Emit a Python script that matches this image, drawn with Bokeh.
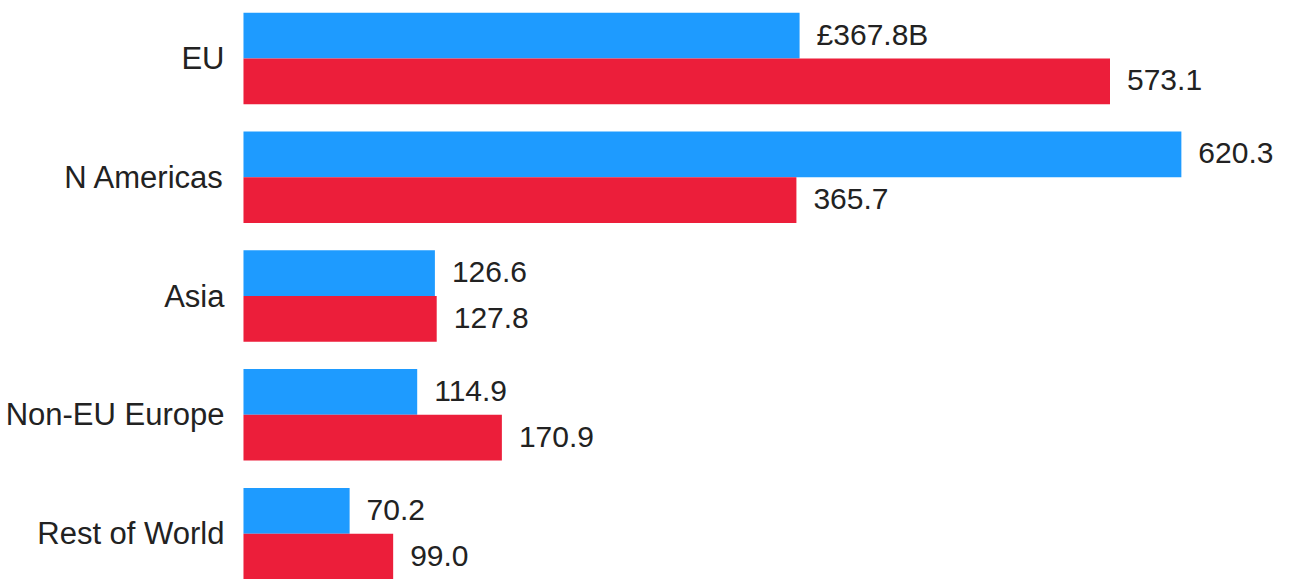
from bokeh.plotting import figure
from bokeh.models import ColumnDataSource, Range1d
from bokeh.core.properties import value
from bokeh.embed import file_html
from bokeh.resources import INLINE

regions = ["EU", "N Americas", "Asia", "Non-EU Europe", "Rest of World"]
series_blue = [367.8, 620.3, 126.6, 114.9, 70.2]
series_red = [573.1, 365.7, 127.8, 170.9, 99.0]

BLUE = "#1E9BFF"
RED = "#EC1E3A"
TXT = "#222222"
FONT = "Liberation Sans"

bar_h = 0.385
idx = list(range(len(regions)))

blue_labels = [f"{v:.1f}" for v in series_blue]
blue_labels[0] = f"£{series_blue[0]:.1f}B"
red_labels = [f"{v:.1f}" for v in series_red]

src_b = ColumnDataSource(dict(y=[i - bar_h / 2 for i in idx], v=series_blue, lab=blue_labels))
src_r = ColumnDataSource(dict(y=[i + bar_h / 2 for i in idx], v=series_red, lab=red_labels))
src_c = ColumnDataSource(dict(y=idx, x=[0] * len(idx), lab=regions))

p = figure(width=1292, height=579, output_backend="svg", toolbar_location=None,
           x_range=Range1d(-160.7, 693.8), y_range=Range1d(4.386, -0.488),
           x_axis_type=None, y_axis_type=None, min_border=0)
p.outline_line_color = None
p.xgrid.visible = False
p.ygrid.visible = False
p.background_fill_color = "white"
p.border_fill_color = "white"

p.hbar(y="y", left=0, right="v", height=bar_h, source=src_b, fill_color=BLUE, line_color=None)
p.hbar(y="y", left=0, right="v", height=bar_h, source=src_r, fill_color=RED, line_color=None)

for src in (src_b, src_r):
    p.text(x="v", y="y", text="lab", source=src, x_offset=17, y_offset=-1,
           text_align="left", text_baseline="middle", text_font=value(FONT),
           text_font_size="30px", text_color=TXT)

p.text(x="x", y="y", text="lab", source=src_c, x_offset=-19,
       text_align="right", text_baseline="middle", text_font=value(FONT),
       text_font_size="31px", text_color=TXT)

open("out.html", "w").write(file_html(p, INLINE))
